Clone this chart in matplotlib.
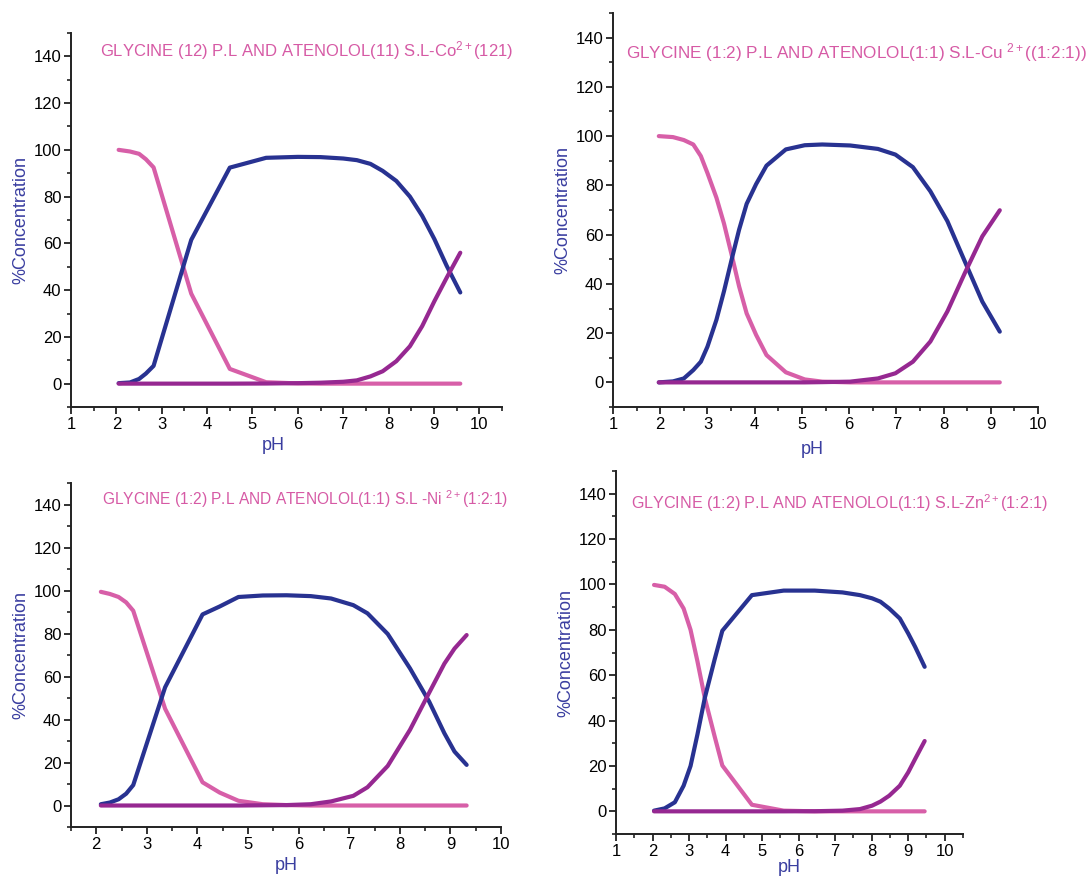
"""
Species distribution curves (%Concentration vs pH) for four metal ion systems
"""

import numpy as np
import matplotlib.pyplot as plt
from matplotlib.ticker import MultipleLocator

plt.rcParams['font.family'] = ['Liberation Sans', 'DejaVu Sans']
plt.rcParams['mathtext.fontset'] = 'custom'
plt.rcParams['mathtext.rm'] = 'Liberation Sans'
plt.rcParams['mathtext.it'] = 'Liberation Sans'

PINK = '#d75fa8'
BLUE = '#283291'
PURPLE = '#962891'
LABEL_BLUE = '#3a3ea0'
TITLE_PINK = '#d65aa5'

# Co(II) system
co_ph = [2.05, 2.3, 2.5, 2.65, 2.82, 3.65, 4.5, 5.3, 6.0, 6.5, 7.0, 7.3, 7.6, 7.87,
         8.17, 8.47, 8.74, 9.01, 9.28, 9.58]
co_free = [100, 99.3, 98.3, 96, 92.5, 38.5, 6.3, 0.6, 0.1, 0, 0, 0, 0, 0,
           0, 0, 0, 0, 0, 0]
co_ml = [0.2, 0.5, 2, 4.3, 7.6, 61.5, 92.4, 96.6, 97, 96.9, 96.3, 95.6, 94, 91,
         86.7, 80, 71.8, 61.8, 50.4, 39]
co_hyd = [0, 0, 0, 0, 0, 0, 0, 0.05, 0.2, 0.4, 0.8, 1.4, 3.1, 5.3,
          9.6, 16, 24.6, 35.3, 45.3, 56]

# Cu(II) system
cu_ph = [1.97, 2.27, 2.5, 2.7, 2.86, 3.0, 3.19, 3.35, 3.52, 3.67, 3.83, 4.03, 4.25,
         4.66, 5.06, 5.43, 6.02, 6.61, 6.98, 7.35, 7.72, 8.08, 8.45, 8.82, 9.19]
cu_free = [100, 99.6, 98.4, 96.6, 91.9, 85, 75, 64.5, 51.2, 39, 28, 19.3, 11.1,
           4.1, 1.2, 0.3, 0, 0, 0, 0, 0, 0, 0, 0, 0]
cu_ml = [0, 0.4, 1.6, 5, 8.4, 14.5, 25.4, 37, 50.5, 62, 72.5, 80.5, 88,
         94.6, 96.3, 96.6, 96.2, 94.8, 92.5, 87.4, 77.6, 65.5, 49.1, 32.8, 20.6]
cu_hyd = [0, 0, 0, 0, 0, 0, 0, 0, 0, 0, 0, 0, 0,
          0, 0, 0.1, 0.3, 1.6, 3.7, 8.4, 16.6, 28.8, 44.4, 59.3, 69.9]

# Ni(II) system
ni_ph = [2.09, 2.27, 2.44, 2.59, 2.73, 3.36, 4.10, 4.44, 4.81, 5.29, 5.76, 6.24,
         6.64, 7.08, 7.36, 7.76, 8.20, 8.58, 8.88, 9.08, 9.32]
ni_free = [99.4, 98.4, 97, 94.5, 90.6, 45, 10.8, 6, 2.2, 0.6, 0.2, 0,
           0, 0, 0, 0, 0, 0, 0, 0, 0]
ni_ml = [0.6, 1.4, 2.9, 5.5, 9.5, 55, 88.9, 92.6, 97, 97.7, 97.8, 97.4,
         96.3, 93.2, 89.4, 79.8, 63.8, 48.3, 33.6, 25.1, 18.9]
ni_hyd = [0, 0, 0, 0, 0, 0, 0, 0, 0, 0.1, 0.2, 0.6,
          1.9, 4.5, 8.5, 18.4, 35.2, 52.5, 66, 73, 79.3]

# Zn(II) system
zn_ph = [2.04, 2.33, 2.61, 2.85, 3.04, 3.23, 3.43, 3.70, 3.91, 4.72, 5.59, 6.44,
         7.20, 7.68, 8.01, 8.24, 8.48, 8.77, 9.0, 9.19, 9.45]
zn_free = [99.8, 99, 95.8, 89.4, 80, 66, 50, 33, 20.2, 2.9, 0.3, 0,
           0, 0, 0, 0, 0, 0, 0, 0, 0]
zn_ml = [0.3, 1.3, 4, 11.3, 20, 34, 50, 67, 79.6, 95.3, 97.3, 97.3,
         96.5, 95.3, 93.9, 92.4, 89.4, 85, 78.4, 72.5, 63.7]
zn_hyd = [0, 0, 0, 0, 0, 0, 0, 0, 0, 0, 0, 0.05,
          0.3, 1, 2.5, 4.3, 6.9, 11.3, 17.2, 23.1, 31]

titles = [
    r'GLYCINE (12) P.L AND ATENOLOL(11) S.L-Co$^{2+}$(121)',
    r'GLYCINE (1:2) P.L AND ATENOLOL(1:1) S.L-Cu $^{2+}$((1:2:1))',
    r'GLYCINE (1:2) P.L AND ATENOLOL(1:1) S.L -Ni $^{2+}$(1:2:1)',
    r'GLYCINE (1:2) P.L AND ATENOLOL(1:1) S.L-Zn$^{2+}$(1:2:1)',
]


def draw_panel(ax, ph, free, ml, hyd, title, title_xy, title_size, xlim, xlabel_xy):
    """
    Draws one distribution panel with three species curves.
    """
    for vals, col in [(free, PINK), (ml, BLUE), (hyd, PURPLE)]:
        ax.plot(ph, vals, color=col, lw=3, solid_capstyle='round',
                solid_joinstyle='round')

    ax.spines['top'].set_visible(False)
    ax.spines['right'].set_visible(False)
    for s in ['left', 'bottom']:
        ax.spines[s].set_linewidth(1.4)
        ax.spines[s].set_color('#222222')

    ax.set_xticks(np.arange(1, 11))
    ax.set_yticks(np.arange(0, 141, 20))
    ax.xaxis.set_minor_locator(MultipleLocator(0.5))
    ax.yaxis.set_minor_locator(MultipleLocator(10))
    ax.tick_params(which='major', length=5, width=1.3, labelsize=12, pad=2,
                   color='#222222')
    ax.tick_params(which='minor', length=3, width=1.2, color='#222222')

    # limits after ticks, otherwise set_xticks widens the view
    ax.set_xlim(*xlim)
    ax.set_ylim(-10, 150)

    ax.set_xlabel('pH', color=LABEL_BLUE, fontsize=13)
    ax.xaxis.label.set_va('center')
    ax.xaxis.set_label_coords(*xlabel_xy)
    ax.set_ylabel('%Concentration', color=LABEL_BLUE, fontsize=13, labelpad=3)

    ax.text(title_xy[0], title_xy[1], title, color=TITLE_PINK, fontsize=title_size,
            ha='left', va='center')


fig = plt.figure(figsize=(10.89, 8.77), dpi=100)

ax1 = fig.add_axes([0.0652, 0.5359, 0.3958, 0.4265])
ax2 = fig.add_axes([0.5629, 0.5359, 0.3903, 0.4493])
ax3 = fig.add_axes([0.0652, 0.0570, 0.3949, 0.3922])
ax4 = fig.add_axes([0.5657, 0.0490, 0.3186, 0.4139])

draw_panel(ax1, co_ph, co_free, co_ml, co_hyd, titles[0], (1.64, 142.5), 12.0,
           (1, 10.5), (0.469, -0.104))
draw_panel(ax2, cu_ph, cu_free, cu_ml, cu_hyd, titles[1], (1.28, 134), 12.3,
           (1, 10), (0.47, -0.109))
draw_panel(ax3, ni_ph, ni_free, ni_ml, ni_hyd, titles[2], (2.12, 142.3), 11.2,
           (1.5, 10), (0.5, -0.113))
draw_panel(ax4, zn_ph, zn_free, zn_ml, zn_hyd, titles[3], (1.41, 136), 11.65,
           (1, 10.5), (0.5, -0.091))

plt.savefig('out.png', dpi=100)
